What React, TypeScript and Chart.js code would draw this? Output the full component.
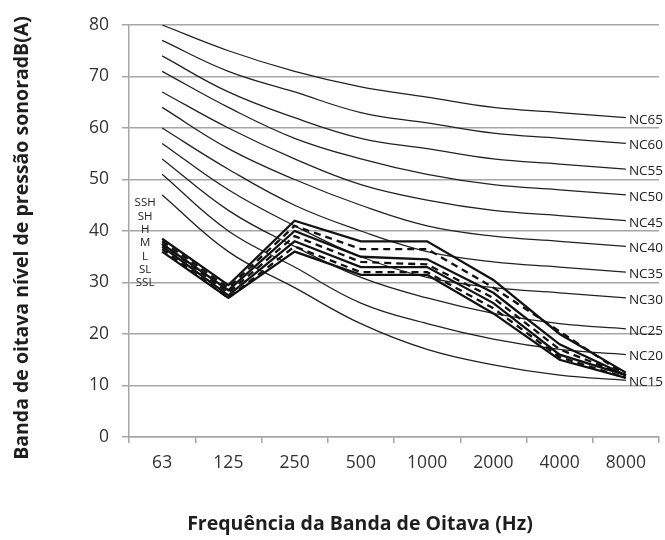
import React, { useEffect, useRef } from "react";
import { Chart, registerables } from "chart.js";
Chart.register(...registerables);

const categories = ["63", "125", "250", "500", "1000", "2000", "4000", "8000"];

const ncLabels = ["NC15", "NC20", "NC25", "NC30", "NC35", "NC40", "NC45", "NC50", "NC55", "NC60", "NC65"];
const nc15 = [47, 36, 29, 22, 17, 14, 12, 11];
const nc20 = [51, 40, 33, 26, 22, 19, 17, 16];
const nc25 = [54, 44, 37, 31, 27, 24, 22, 21];
const nc30 = [57, 48, 41, 35, 31, 29, 28, 27];
const nc35 = [60, 52, 45, 40, 36, 34, 33, 32];
const nc40 = [64, 56, 50, 45, 41, 39, 38, 37];
const nc45 = [67, 60, 54, 49, 46, 44, 43, 42];
const nc50 = [71, 64, 58, 54, 51, 49, 48, 47];
const nc55 = [74, 67, 62, 58, 56, 54, 53, 52];
const nc60 = [77, 71, 67, 63, 61, 59, 58, 57];
const nc65 = [80, 75, 71, 68, 66, 64, 63, 62];
const ncSeries = [nc15, nc20, nc25, nc30, nc35, nc40, nc45, nc50, nc55, nc60, nc65];

const measuredLabels = ["SSH", "SH", "H", "M", "L", "SL", "SSL"];
const ssh = [38.5, 29.5, 42, 38, 38, 30.5, 20, 12.5];
const sh = [38, 29, 41, 36.5, 36.5, 29, 20.5, 12];
const h = [37.5, 28.5, 40, 35, 34.5, 28, 18, 12];
const m = [37.5, 28, 39, 34, 33.5, 27, 17, 12];
const l = [37, 27.5, 38, 33, 33, 26, 16, 12];
const sl = [36.5, 27, 37, 32, 32, 25, 15.5, 11.5];
const ssl = [36, 27, 36, 31.5, 31.5, 24, 15, 11.5];
const measuredSeries = [ssh, sh, h, m, l, sl, ssl];
const measuredDashed = [false, true, false, true, false, true, false];
const measuredLabelTop = 45.4;

const yMin = 0;
const yMax = 80;
const yStep = 10;

const xTitle = "Frequência da Banda de Oitava (Hz)";
const yTitle = "Banda de oitava nível de pressão sonoradB(A)";

const FONT = "'Open Sans', 'Noto Sans', sans-serif";

const labelPlugin = {
  id: "seriesLabels",
  afterDraw(chart: any) {
    const { ctx, scales } = chart;
    const x = scales.x;
    const y = scales.y;
    ctx.save();
    ctx.fillStyle = "#222";
    ctx.textBaseline = "middle";
    ctx.textAlign = "left";
    ctx.font = `13.5px ${FONT}`;
    const lastIdx = categories.length - 1;
    ncSeries.forEach((s, i) => {
      const px = x.getPixelForValue(lastIdx) + 3;
      const py = y.getPixelForValue(s[lastIdx]) + 2;
      ctx.fillText(ncLabels[i], px, py);
    });
    ctx.font = `11.5px ${FONT}`;
    ctx.textAlign = "center";
    const x0 = x.getPixelForValue(0) - 17;
    const y0 = y.getPixelForValue(measuredLabelTop);
    measuredLabels.forEach((t, i) => {
      ctx.fillText(t, x0, y0 + i * 13.3);
    });

    // axis titles
    ctx.fillStyle = "#1e1e1e";
    ctx.font = `bold 19.5px ${FONT}`;
    ctx.textAlign = "center";
    ctx.textBaseline = "middle";
    ctx.fillText(xTitle, 360, 524);
    ctx.translate(22, 238);
    ctx.rotate(-Math.PI / 2);
    ctx.fillText(yTitle, 0, 0);
    ctx.restore();
  },
};

export default function App() {
  const ref = useRef<HTMLCanvasElement | null>(null);
  useEffect(() => {
    document.body.style.margin = "0";
    const canvas = ref.current;
    if (!canvas) return;
    const datasets: any[] = [];
    measuredSeries.forEach((s, i) => {
      datasets.push({
        label: measuredLabels[i],
        data: s,
        borderColor: "#111",
        borderWidth: 2.3,
        borderDash: measuredDashed[i] ? [7, 5] : [],
        pointRadius: 0,
        tension: 0,
        fill: false,
        order: 0,
      });
    });
    ncSeries.forEach((s, i) => {
      datasets.push({
        label: ncLabels[i],
        data: s,
        borderColor: "#222",
        borderWidth: 1.3,
        pointRadius: 0,
        tension: 0.4,
        fill: false,
        order: 1,
      });
    });
    const chart = new Chart(canvas, {
      type: "line",
      data: { labels: categories, datasets },
      plugins: [labelPlugin],
      options: {
        animation: false,
        responsive: false,
        layout: { padding: { top: 25, right: 6, left: 0, bottom: 0 } },
        plugins: { legend: { display: false }, tooltip: { enabled: false } },
        scales: {
          x: {
            offset: true,
            grid: {
              offset: true,
              drawOnChartArea: false,
              drawTicks: true,
              tickLength: 6,
              color: "#a6a6a6",
              lineWidth: 1.5,
            },
            border: { display: true, color: "#a6a6a6", width: 1.5 },
            ticks: {
              color: "#333",
              font: { family: FONT, size: 17.5 },
              padding: 10,
              maxRotation: 0,
            },
            afterFit: (s: any) => {
              s.height = 103;
            },
          },
          y: {
            min: yMin,
            max: yMax,
            ticks: {
              stepSize: yStep,
              color: "#333",
              font: { family: FONT, size: 17.5 },
              padding: 13,
            },
            grid: {
              color: "#a6a6a6",
              lineWidth: 1.5,
              tickLength: 7,
            },
            border: { display: true, color: "#a6a6a6", width: 1.5 },
            afterFit: (s: any) => {
              s.width = 129;
            },
          },
        },
      },
    });
    return () => chart.destroy();
  }, []);
  return (
    <div style={{ width: 665, height: 540 }}>
      <canvas ref={ref} width={665} height={540} style={{ display: "block" }} />
    </div>
  );
}
